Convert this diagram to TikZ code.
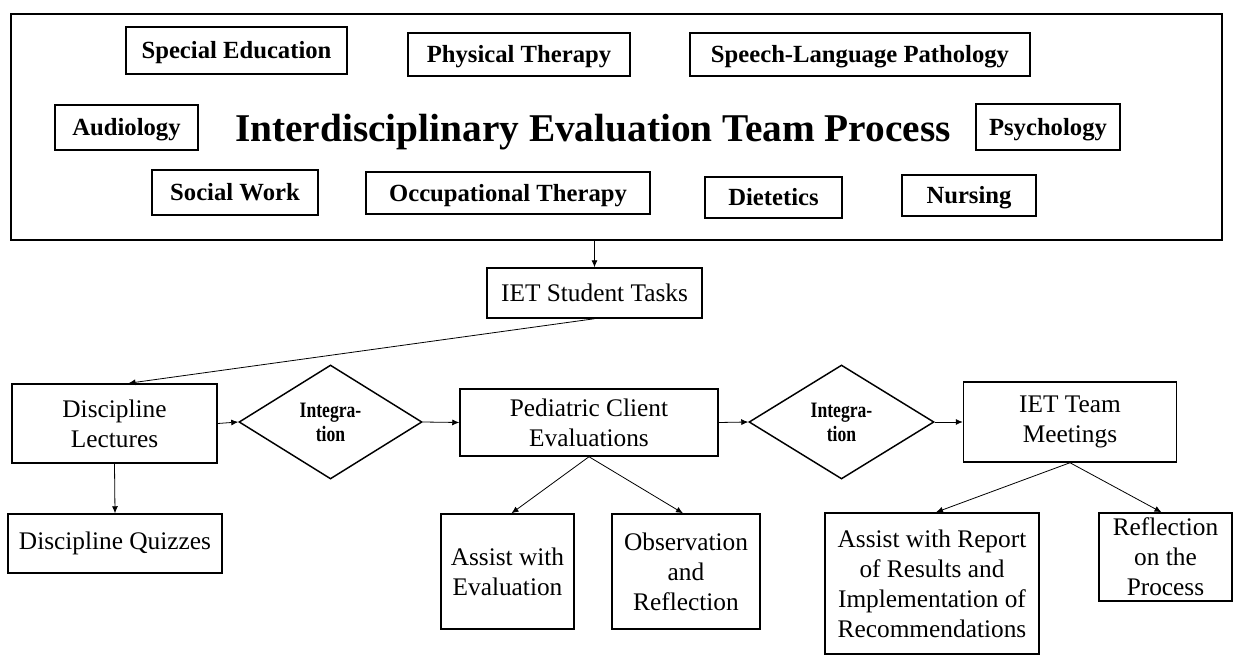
\documentclass[tikz,border=0pt]{standalone}
\usepackage{fontspec}
\setmainfont{Liberation Serif}
\newfontfamily\narrowserif[FakeStretch=0.8]{Liberation Serif}
\usetikzlibrary{shapes.geometric,arrows.meta}
\newdimen\px \px=0.75pt
\tikzset{
  discipline/.style={draw, line width=1.1pt, inner sep=0pt,
    text height=13pt, text depth=0.6pt,
    font=\bfseries\fontsize{18.5}{22}\selectfont},
  taskbox/.style={draw, line width=1.1pt, inner sep=0pt, align=center,
    font=\fontsize{19}{22.5}\selectfont},
  integration/.style={draw, diamond, line width=1.1pt, inner sep=0pt, align=center,
    minimum width=183\px, minimum height=114\px,
    font=\narrowserif\bfseries\fontsize{16.5}{18}\selectfont},
  link/.style={-{Latex[length=5.25pt,width=4.5pt]}, line width=0.6pt}
}

\begin{document}
\begin{tikzpicture}[x=\px, y=-\px]
\useasboundingbox (0,0) rectangle (1233,656);

% The frame with the disciplines and the title
\node[draw, line width=1.3pt, minimum width=1211\px, minimum height=226\px] (frame) at (616.5,127) {};
\node[font=\bfseries\fontsize{29.5}{34}\selectfont, anchor=base] (title) at (593,142)
  {Interdisciplinary Evaluation Team Process};

\node[discipline, minimum width=221\px, minimum height=47\px] (specEd)    at (236.5,50.5) {Special Education};
\node[discipline, minimum width=222\px, minimum height=43\px] (physTh)    at (519,54.5)   {Physical Therapy};
\node[discipline, minimum width=340\px, minimum height=43\px] (speech)    at (860,54.5)   {Speech-Language Pathology};
\node[discipline, minimum width=143\px, minimum height=45\px] (audio)     at (126.5,127.5){Audiology};
\node[discipline, minimum width=144\px, minimum height=46\px] (psych)     at (1048,127)   {Psychology};
\node[discipline, minimum width=166\px, minimum height=45\px] (social)    at (235,192.5)  {Social Work};
\node[discipline, minimum width=284\px, minimum height=42\px] (occTh)     at (508,193)    {Occupational Therapy};
\node[discipline, minimum width=137\px, minimum height=41\px] (diet)      at (773.5,197.5){Dietetics};
\node[discipline, minimum width=134\px, minimum height=41\px] (nursing)   at (969,195.5)  {Nursing};

% Student tasks
\node[taskbox, minimum width=215\px, minimum height=50\px] (tasks)      at (594.5,293)   {IET Student Tasks};
\node[taskbox, minimum width=205\px, minimum height=79\px] (lectures)   at (114.5,423.5) {Discipline\\Lectures};
\node[integration] (integA) at (330.5,422) {Integra-\\tion};
\node[taskbox, minimum width=258\px, minimum height=67\px] (pediatric)  at (589,422.5)   {Pediatric Client\\Evaluations};
\node[integration, minimum width=185\px] (integB) at (841.5,422) {Integra-\\tion};
\node[taskbox, minimum width=213\px, minimum height=80\px] (meetings)   at (1070,422)    {IET Team\\Meetings};

\node[taskbox, minimum width=214\px, minimum height=59\px]  (quizzes)    at (115,543.5)   {Discipline Quizzes};
\node[taskbox, minimum width=133\px, minimum height=115\px] (assistEval) at (507.5,571.5) {Assist with\\Evaluation};
\node[taskbox, minimum width=148\px, minimum height=115\px] (observe)    at (686,571.5)   {Observation\\and\\Reflection};
\node[taskbox, minimum width=214\px, minimum height=141\px] (report)     at (932,583.5)   {Assist with Report\\of Results and\\Implementation of\\Recommendations};
\node[taskbox, minimum width=133\px, minimum height=88\px]  (reflect)    at (1165.5,557)  {Reflection\\on the\\Process};

% Connectors
\draw[link] (tasks.north |- frame.south) -- (tasks.north);
\draw[link] (tasks.south) -- ([xshift=14\px]lectures.north);
\draw[link] (lectures.east) -- (integA.west);
\draw[link] (integA.east) -- (pediatric.west);
\draw[link] (pediatric.east) -- (integB.west);
\draw[link] (integB.east) -- (meetings.west);
\draw[link] (lectures.south) -- (quizzes.north);
\draw[link] (pediatric.south) -- ([xshift=4\px]assistEval.north);
\draw[link] (pediatric.south) -- ([xshift=-3\px]observe.north);
\draw[link] (meetings.south) -- ([xshift=4\px]report.north);
\draw[link] (meetings.south) -- ([xshift=-4\px]reflect.north);

\end{tikzpicture}
\end{document}
